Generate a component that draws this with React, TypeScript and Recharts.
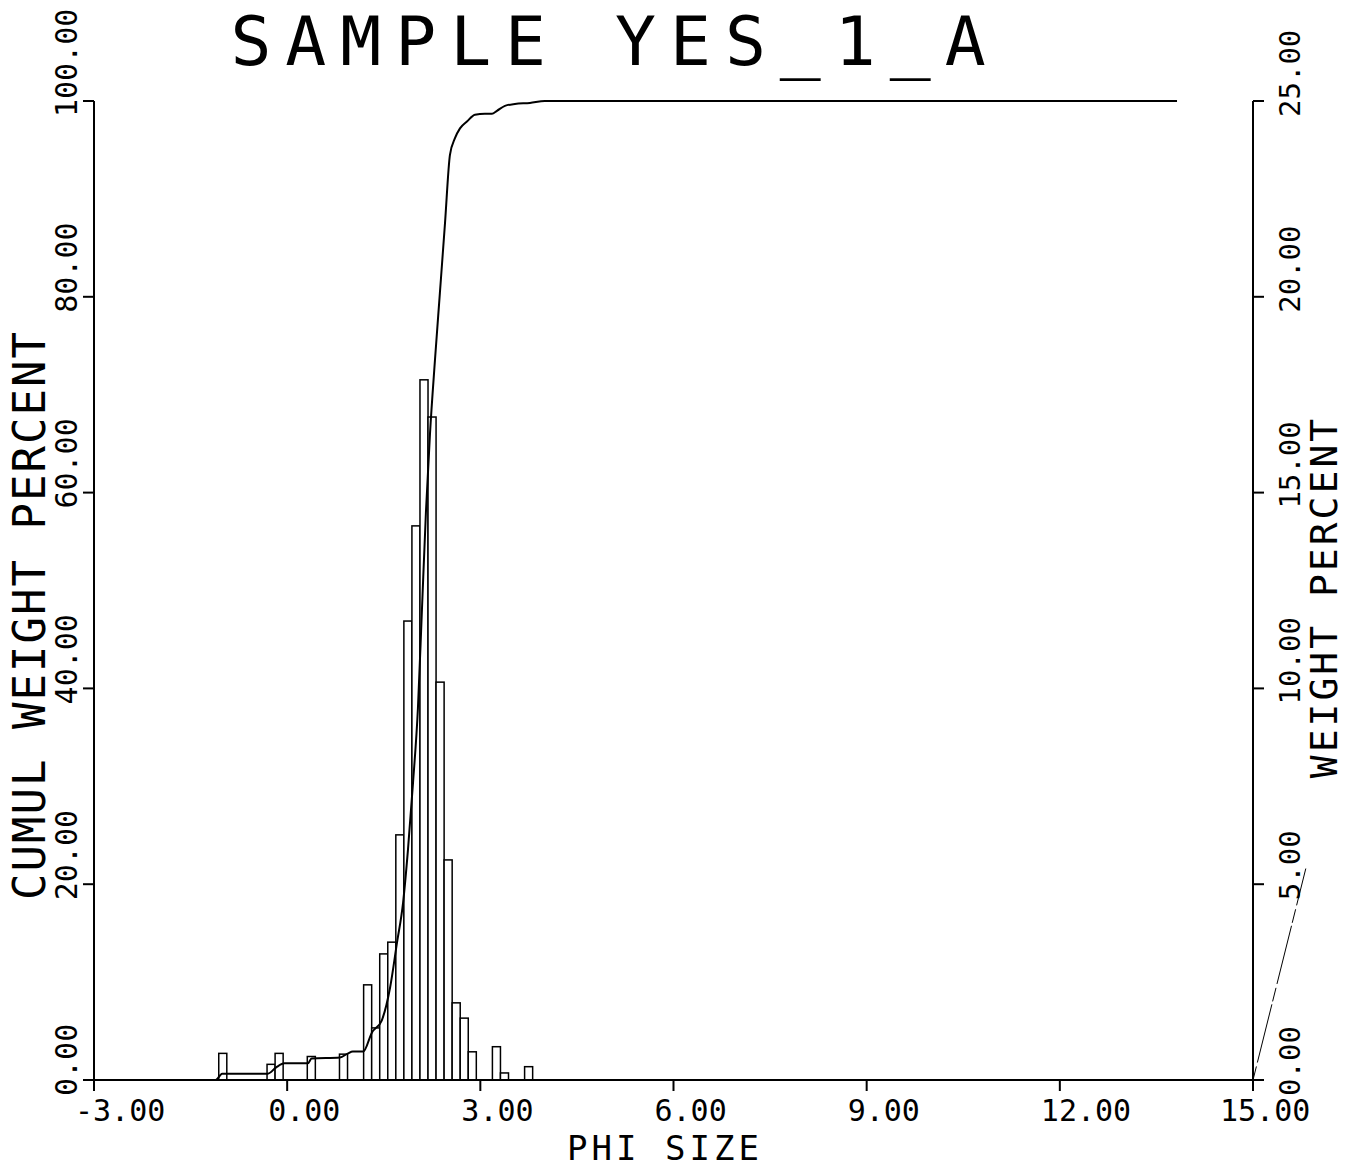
import { ComposedChart, Bar, Line, XAxis, YAxis, ReferenceLine } from "recharts";

const FONT = '"DejaVu Sans Mono", monospace';

// axis ticks
const phiTicks = [-3, 0, 3, 6, 9, 12, 15];
const cumulTicks = [0, 20, 40, 60, 80, 100];
const weightTicks = [0, 5, 10, 15, 20, 25];

// histogram (1/8 phi classes), weight percent
const binPhi = [
  -1.0, -0.25, -0.125, 0.375, 0.875, 1.25, 1.375, 1.5, 1.625, 1.75, 1.875,
  2.0, 2.125, 2.25, 2.375, 2.5, 2.625, 2.75, 2.875, 3.25, 3.375, 3.75,
];
const binWeight = [
  0.68, 0.4, 0.68, 0.6, 0.66, 2.43, 1.33, 3.22, 3.52, 6.26, 11.72,
  14.15, 17.88, 16.93, 10.16, 5.62, 1.97, 1.58, 0.72, 0.85, 0.18, 0.34,
];

// cumulative curve
const cumulPhi = [
  -3.0, -1.11, -1.01, -0.3, -0.17, -0.04, 0.32, 0.38, 0.82, 0.94, 1.02, 1.18,
  1.33, 1.36, 1.47, 1.6, 1.705, 1.8, 1.876, 1.954, 2.031, 2.093, 2.155, 2.218,
  2.295, 2.372, 2.451, 2.528, 2.606, 2.684, 2.792, 2.916, 3.071, 3.18, 3.258,
  3.382, 3.537, 3.77, 4.0, 13.82,
];
const cumulPct = [
  0, 0, 0.65, 0.65, 1.3, 1.7, 1.7, 2.2, 2.3, 2.7, 2.9, 2.9,
  5.0, 5.2, 6.1, 9.5, 14.0, 18.1, 23.5, 30.3, 38, 48, 58, 66,
  73.5, 80.4, 87.5, 94.5, 96.2, 97.2, 97.9, 98.6, 98.7, 98.7, 99.0,
  99.5, 99.7, 99.8, 100, 100,
];

const bins = binPhi.map((phi, i) => ({ phi, weight: binWeight[i] }));
const cumul = cumulPhi.map((phi, i) => ({ phi, cumul: cumulPct[i] }));

// plot area is 1159px for 18 phi, class width 1/8 phi
const BIN_W = (1159 / 18) * 0.125;

const fmt = (v: number) => v.toFixed(2);

// bar drawn a full class wide, centred where recharts put it
function HistBar(props: any) {
  const { x, y, width, height } = props;
  if (!height) return null;
  const cx = x + width / 2;
  return (
    <rect x={cx - BIN_W / 2} y={y} width={BIN_W} height={height} fill="#fff" stroke="#000" strokeWidth={1.5} />
  );
}

function PhiTick(props: any) {
  const { x, payload, index } = props;
  const shift = index === phiTicks.length - 1 ? 33 : 19;
  return (
    <text x={x - shift} y={1121} fontSize={30} fontFamily={FONT} fill="#000">
      {fmt(payload.value)}
    </text>
  );
}

function LeftTick(props: any) {
  const { y, payload } = props;
  const ty = y + 16;
  return (
    <text x={77} y={ty} transform={`rotate(-90 77 ${ty})`} fontSize={30} fontFamily={FONT} fill="#000">
      {fmt(payload.value)}
    </text>
  );
}

function RightTick(props: any) {
  const { y, payload } = props;
  const ty = y + 16;
  return (
    <text x={1300} y={ty} transform={`rotate(-90 1300 ${ty})`} fontSize={29} fontFamily={FONT} fill="#000">
      {fmt(payload.value)}
    </text>
  );
}

export default function App() {
  return (
    <div style={{ position: "absolute", left: 0, top: 0, width: 1352, height: 1168, background: "#fff" }}>
      <ComposedChart width={1352} height={1168} data={bins} margin={{ top: 101, right: 0, bottom: 0, left: 0 }}>
        <XAxis
          type="number"
          dataKey="phi"
          domain={[-3, 15]}
          ticks={phiTicks}
          height={88}
          tickSize={11}
          tick={PhiTick}
          axisLine={{ stroke: "#000", strokeWidth: 2 }}
          tickLine={{ stroke: "#000", strokeWidth: 2 }}
          allowDataOverflow
        />
        <YAxis
          yAxisId="left"
          orientation="left"
          width={94}
          domain={[0, 100]}
          ticks={cumulTicks}
          tickSize={11}
          tick={LeftTick}
          axisLine={{ stroke: "#000", strokeWidth: 2 }}
          tickLine={{ stroke: "#000", strokeWidth: 2 }}
        />
        <YAxis
          yAxisId="right"
          orientation="right"
          width={99}
          domain={[0, 25]}
          ticks={weightTicks}
          tickSize={11}
          tick={RightTick}
          axisLine={{ stroke: "#000", strokeWidth: 2 }}
          tickLine={{ stroke: "#000", strokeWidth: 2 }}
        />
        <Bar yAxisId="right" dataKey="weight" shape={HistBar} isAnimationActive={false} />
        <Line
          yAxisId="left"
          data={cumul}
          dataKey="cumul"
          type="monotone"
          stroke="#000"
          strokeWidth={2}
          dot={false}
          isAnimationActive={false}
        />
        <ReferenceLine
          yAxisId="right"
          segment={[{ x: 15, y: 0 }, { x: 15.82, y: 5.4 }]}
          ifOverflow="visible"
          stroke="#000"
          strokeWidth={1}
          strokeDasharray="14 4 60 3"
        />
      </ComposedChart>
      <svg width={1352} height={1168} style={{ position: "absolute", left: 0, top: 0, pointerEvents: "none" }}>
        <text x={615} y={65} textAnchor="middle" fontSize={68} letterSpacing={14} fontFamily={FONT} fill="#000">
          SAMPLE YES_1_A
        </text>
        <text x={665} y={1160} textAnchor="middle" fontSize={34} letterSpacing={4} fontFamily={FONT} fill="#000">
          PHI SIZE
        </text>
        <text
          x={45}
          y={615}
          textAnchor="middle"
          transform="rotate(-90 45 615)"
          fontSize={44}
          letterSpacing={2}
          fontFamily={FONT}
          fill="#000"
        >
          CUMUL WEIGHT PERCENT
        </text>
        <text
          x={1337}
          y={597}
          textAnchor="middle"
          transform="rotate(-90 1337 597)"
          fontSize={38}
          letterSpacing={3}
          fontFamily={FONT}
          fill="#000"
        >
          WEIGHT PERCENT
        </text>
      </svg>
    </div>
  );
}
